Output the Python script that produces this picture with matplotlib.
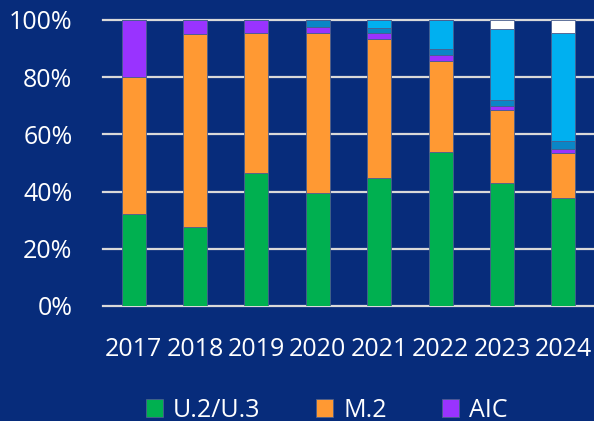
import matplotlib
matplotlib.use("Agg")
import matplotlib.pyplot as plt
import numpy as np

years = ["2017", "2018", "2019", "2020", "2021", "2022", "2023", "2024"]
u2u3 = [32.2, 27.6, 46.5, 39.5, 44.8, 53.7, 43.0, 37.8]
m2 = [47.8, 67.5, 49.1, 56.1, 48.6, 32.0, 25.6, 15.8]
aic = [20.0, 4.9, 4.4, 1.8, 2.1, 2.0, 1.4, 1.2]
e1s = [0.0, 0.0, 0.0, 2.6, 1.7, 2.2, 2.0, 2.9]
e3s = [0.0, 0.0, 0.0, 0.0, 2.8, 10.1, 24.7, 37.9]
other = [0.0, 0.0, 0.0, 0.0, 0.0, 0.0, 3.3, 4.4]

series = [
    ("U.2/U.3", u2u3, "#00b050"),
    ("M.2", m2, "#ff9933"),
    ("AIC", aic, "#9933ff"),
    ("E1.S", e1s, "#0a86c6"),
    ("E3.S", e3s, "#00b0f0"),
    ("Other", other, "#ffffff"),
]

bg = "#072c7b"
plt.rcParams['font.family'] = ['Open Sans', 'DejaVu Sans']

fig = plt.figure(figsize=(5.94, 4.21), dpi=100, facecolor=bg)
ax = fig.add_axes([0.1734, 0.2732, 0.8266, 0.6793])
ax.set_facecolor(bg)

x = np.arange(len(years))
bottom = np.zeros(len(years))
handles = []
for name, vals, col in series:
    v = np.array(vals) / 100.0
    b = ax.bar(x, v, width=0.39, bottom=bottom, color=col, edgecolor="#4a5f8f",
               linewidth=0.6, zorder=3, label=name)
    handles.append(b)
    bottom += v

ax.set_xlim(-0.5, 7.5)
ax.set_ylim(0, 1.0)
ax.set_yticks([0, 0.2, 0.4, 0.6, 0.8, 1.0])
ax.set_yticklabels(["0%", "20%", "40%", "60%", "80%", "100%"])
ax.set_xticks(x)
ax.set_xticklabels(years)
for yv in [0, 0.2, 0.4, 0.6, 0.8, 1.0]:
    ax.axhline(yv, color="#d9d9d9", linewidth=1.6, zorder=2, clip_on=False)
for s in ax.spines.values():
    s.set_visible(False)
ax.tick_params(axis='both', length=0, colors="white", labelsize=18)
ax.tick_params(axis='y', pad=22)
ax.tick_params(axis='x', pad=22)

leg = fig.legend(handles=handles[:3], labels=["U.2/U.3", "M.2", "AIC"],
                 loc="upper left", bbox_to_anchor=(0.245, 0.055), ncol=3,
                 frameon=False, fontsize=18, labelcolor="white",
                 handlelength=0.7, handleheight=0.7, handletextpad=0.4,
                 columnspacing=2.2, borderaxespad=0, borderpad=0)

fig.savefig("out.png", dpi=100, facecolor=bg)
